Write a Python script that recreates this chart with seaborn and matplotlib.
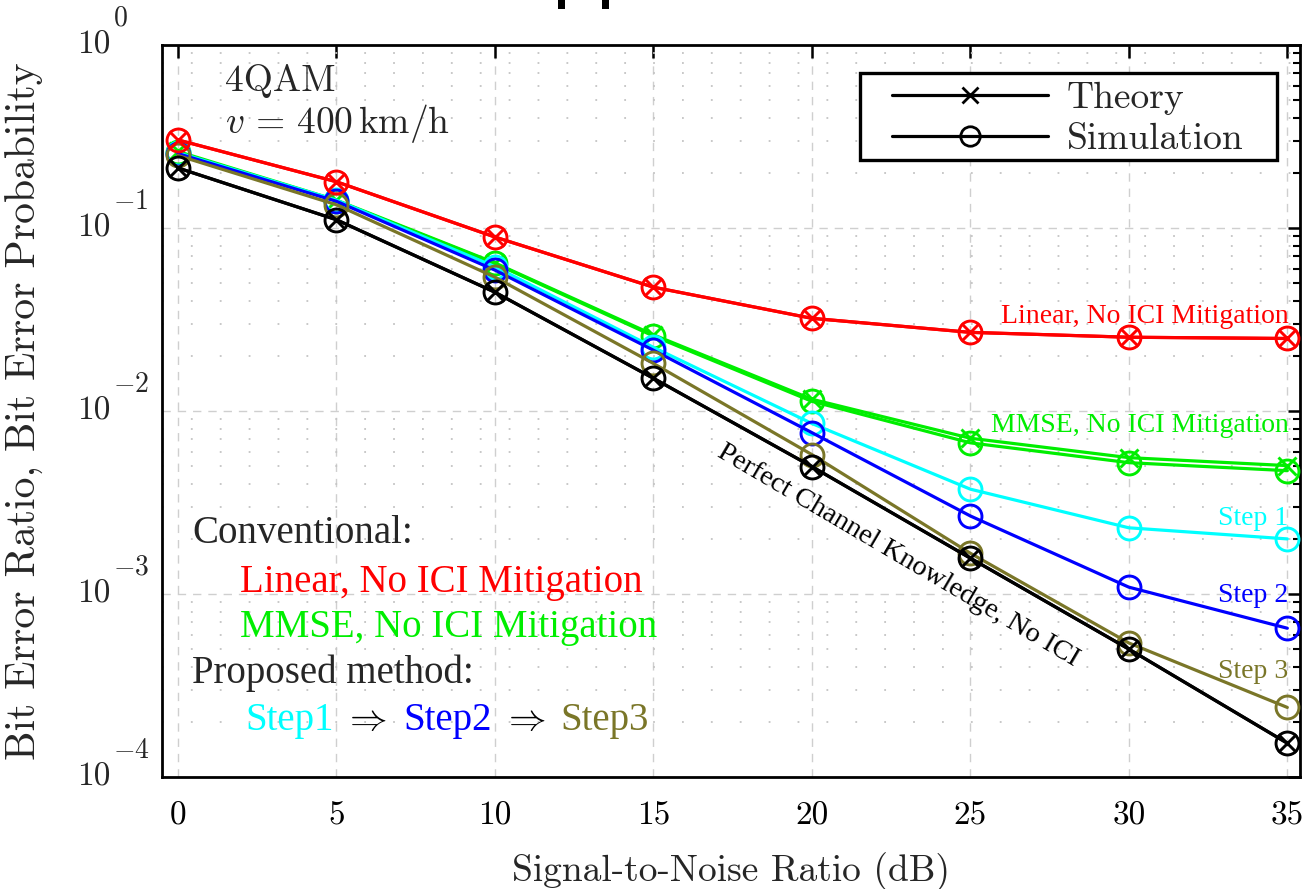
import matplotlib
matplotlib.use("Agg")
import matplotlib.pyplot as plt
from matplotlib.patches import Rectangle
from matplotlib.lines import Line2D
from matplotlib.ticker import LogLocator, NullFormatter, FixedLocator
import seaborn as sns

# SNR grid (dB) and BER curves
snr_db = [0, 5, 10, 15, 20, 25, 30, 35]
ber_linear = [0.303, 0.179, 0.0893, 0.0475, 0.0321, 0.0269, 0.0253, 0.0249]
ber_mmse_theory = [0.262, 0.142, 0.0645, 0.0261, 0.0116, 0.0071, 0.00556, 0.00503]
ber_mmse_sim = [0.259, 0.141, 0.0640, 0.0257, 0.0113, 0.0067, 0.00522, 0.00472]
ber_step1 = [0.258, 0.142, 0.0615, 0.0223, 0.00855, 0.00374, 0.00230, 0.00200]
ber_step2 = [0.255, 0.140, 0.0589, 0.0215, 0.00762, 0.00267, 0.00109, 0.00065]
ber_step3 = [0.249, 0.134, 0.0539, 0.0182, 0.00578, 0.00167, 0.00054, 0.00024]
ber_perfect = [0.213, 0.111, 0.0446, 0.0151, 0.00497, 0.00157, 0.00050, 0.000153]

x_ticks = [0, 5, 10, 15, 20, 25, 30, 35]
y_decades = [0, -1, -2, -3, -4]

RED, GREEN, CYAN, BLUE, OLIVE, BLACK = "#ff0000", "#00ee00", "#00ffff", "#0000ff", "#7a7628", "#000000"

sns.set_theme(style="white")
plt.rcParams["font.family"] = ["cmr10", "DejaVu Serif"]
plt.rcParams["mathtext.fontset"] = "cm"
plt.rcParams["axes.formatter.use_mathtext"] = True

fig = plt.figure(figsize=(13.08, 8.89), dpi=100)
ax = fig.add_axes([162 / 1308, 1 - 777 / 889, 1138 / 1308, 732 / 889])

LW = 2.3
CIRC = dict(marker="o", markersize=16.5, markerfacecolor="none", markeredgewidth=2.1)
CROSS = dict(marker="x", markersize=12.5, markeredgewidth=2.1)


def curve(y, color, style, z):
    sns.lineplot(x=snr_db, y=y, ax=ax, color=color, lw=LW, markeredgecolor=color,
                 zorder=z, **style)


curve(ber_mmse_theory, GREEN, CROSS, 3)
curve(ber_mmse_sim, GREEN, CIRC, 3)
curve(ber_step1, CYAN, CIRC, 3.1)
curve(ber_step2, BLUE, CIRC, 3.2)
curve(ber_step3, OLIVE, CIRC, 3.3)
curve(ber_perfect, BLACK, CROSS, 3.4)
curve(ber_perfect, BLACK, CIRC, 3.4)
curve(ber_linear, RED, CROSS, 3.5)
curve(ber_linear, RED, CIRC, 3.5)

ax.set_yscale("log")
ax.set_xlim(-0.5, 35.4)
ax.set_ylim(1e-4, 1)
ax.xaxis.set_major_locator(FixedLocator(x_ticks))
ax.set_xticklabels([str(t) for t in x_ticks])
ax.yaxis.set_major_locator(FixedLocator([10.0 ** k for k in y_decades]))
ax.yaxis.set_minor_locator(LogLocator(base=10, subs=range(2, 10), numticks=50))
ax.yaxis.set_minor_formatter(NullFormatter())

ax.set_axisbelow(True)
ax.grid(which="major", axis="both", ls=(0, (6, 5)), color="#cfcfcf", lw=1.0)
ax.grid(which="minor", axis="y", ls=(0, (1, 15)), color="#c4c4c4", lw=1.3)

ax.tick_params(which="both", direction="in", top=True, right=True, colors="black")
ax.tick_params(which="major", length=9, width=1.8, labelsize=24, pad=17.5)
ax.tick_params(which="minor", length=5, width=1.5)
ax.tick_params(axis="y", labelleft=False)
for s in ax.spines.values():
    s.set_linewidth(2.0)
    s.set_color("black")

# decade labels: mantissa "10" with a raised exponent
for k in y_decades:
    ax.annotate("10", xy=(0, 10.0 ** k), xycoords=("axes fraction", "data"),
                xytext=(-37.4, 0), textcoords="offset points",
                ha="right", va="center", fontsize=24)
    ax.annotate(rf"${k}$", xy=(0, 10.0 ** k), xycoords=("axes fraction", "data"),
                xytext=(-35.6, 9.5), textcoords="offset points",
                ha="left", va="bottom", fontsize=20)

ax.set_xlabel("Signal-to-Noise Ratio (dB)", fontsize=27)
ax.set_ylabel("Bit Error Ratio, Bit Error Probability", fontsize=30)
ax.xaxis.set_label_coords(0.5, -0.1025)
ax.yaxis.set_label_coords(-0.104, 0.5)

# scenario annotation
ax.text(0.0554, 0.937, "4QAM", transform=ax.transAxes, fontsize=27, va="baseline")
ax.text(0.0554, 0.88, r"$v\,=\,400\,\mathrm{km/h}$", transform=ax.transAxes,
        fontsize=27, va="baseline")

# legend with boxed white background
ax.add_patch(Rectangle((0.6134, 0.8429), 0.3664, 0.1189, transform=ax.transAxes,
                       facecolor="white", edgecolor="black", lw=2.4, zorder=6))
handles = [Line2D([], [], color="black", lw=LW, marker="x", markersize=11, markeredgewidth=2.0),
           Line2D([], [], color="black", lw=LW, marker="o", markersize=14,
                  markerfacecolor="none", markeredgewidth=2.0)]
leg = ax.legend(handles, ["Theory", "Simulation"], loc="center left",
                bbox_to_anchor=(0.6415, 0.899), borderaxespad=0, borderpad=0,
                frameon=False, fontsize=27, handlelength=4.16, handletextpad=0.5,
                labelspacing=0.2)
leg.set_zorder(7)

# curve labels on the right
times = "Liberation Serif"
for y, s, c in [(0.620, "Linear, No ICI Mitigation", RED),
                (0.471, "MMSE, No ICI Mitigation", GREEN),
                (0.344, "Step 1", CYAN),
                (0.239, "Step 2", BLUE),
                (0.135, "Step 3", OLIVE)]:
    ax.text(0.990, y, s, transform=ax.transAxes, ha="right", va="baseline",
            fontsize=20, color=c, family=times, zorder=8)

ax.text(0.647, 0.303, "Perfect Channel Knowledge, No ICI", transform=ax.transAxes,
        ha="center", va="center", rotation=-30.5, rotation_mode="anchor",
        fontsize=20.5, color="black", family=times, zorder=8)

# method description, lower left
ax.text(0.0264, 0.320, "Conventional:", transform=ax.transAxes, fontsize=28, family=times, va="baseline")
ax.text(0.0685, 0.2527, "Linear, No ICI Mitigation", transform=ax.transAxes, fontsize=28,
        family=times, color=RED, va="baseline")
ax.text(0.0685, 0.191, "MMSE, No ICI Mitigation", transform=ax.transAxes, fontsize=28,
        family=times, color=GREEN, va="baseline")
ax.text(0.0264, 0.128, "Proposed method:", transform=ax.transAxes, fontsize=28, family=times, va="baseline")
for xpos, s, c, fs, ha, fam in [(0.0729, "Step1", CYAN, 28, "left", times),
                                (0.178, r"$\Rightarrow$", BLACK, 27, "center", None),
                                (0.2118, "Step2", BLUE, 28, "left", times),
                                (0.318, r"$\Rightarrow$", BLACK, 27, "center", None),
                                (0.3497, "Step3", OLIVE, 28, "left", times)]:
    kw = dict(family=fam) if fam else {}
    ax.text(xpos, 0.064, s, transform=ax.transAxes, fontsize=fs, color=c, va="baseline",
            ha=ha, **kw)

# small marks at the top edge of the canvas
for x0 in (558, 602):
    fig.add_artist(Rectangle((x0 / 1308, 1 - 9 / 889), 7 / 1308, 9 / 889,
                             transform=fig.transFigure, facecolor="black", edgecolor="none"))

fig.savefig("out.png", dpi=100)
